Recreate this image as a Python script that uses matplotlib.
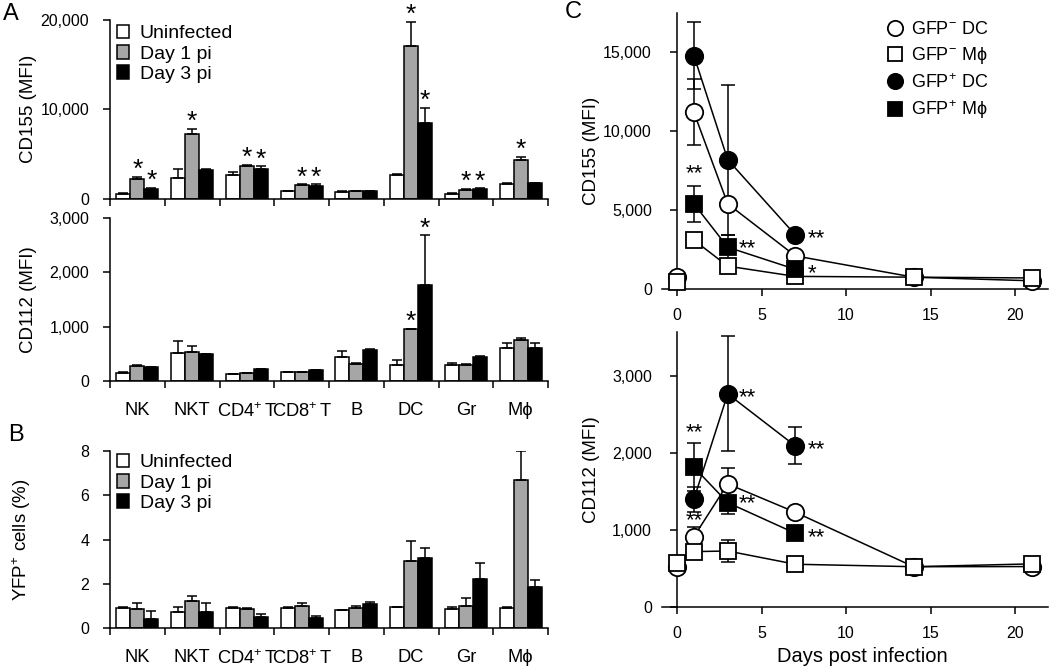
import numpy as np
import matplotlib
matplotlib.use("Agg")
import matplotlib.pyplot as plt
from matplotlib.ticker import FuncFormatter
from matplotlib.lines import Line2D

plt.rcParams['font.family'] = ['Liberation Sans', 'DejaVu Sans']
plt.rcParams['mathtext.fontset'] = 'custom'
plt.rcParams['mathtext.rm'] = 'Liberation Sans'
plt.rcParams['mathtext.it'] = 'Liberation Sans:italic'
plt.rcParams['mathtext.bf'] = 'Liberation Sans:bold'

# ---------------- data ----------------
categories = ["NK", "NKT", r"CD4$^{+}\,$T", r"CD8$^{+}\,$T", "B", "DC", "Gr", "Mϕ"]
groups = ["Uninfected", "Day 1 pi", "Day 3 pi"]

cd155_uninf = [550, 2300, 2600, 800, 750, 2650, 500, 1650]
cd155_uninf_err = [100, 1000, 350, 100, 50, 80, 80, 80]
cd155_d1 = [2250, 7250, 3700, 1500, 800, 17100, 1000, 4350]
cd155_d1_err = [150, 550, 80, 80, 50, 2700, 100, 350]
cd155_d3 = [1100, 3150, 3300, 1400, 800, 8450, 1050, 1750]
cd155_d3_err = [80, 200, 300, 200, 50, 1700, 100, 50]
cd155_stars_d1 = [1, 1, 1, 1, 0, 1, 1, 1]
cd155_stars_d3 = [1, 0, 1, 1, 0, 1, 1, 0]

cd112_uninf = [150, 520, 125, 160, 435, 295, 295, 605]
cd112_uninf_err = [10, 220, 10, 10, 120, 90, 35, 95]
cd112_d1 = [280, 530, 140, 160, 320, 950, 295, 750]
cd112_d1_err = [10, 110, 10, 10, 10, 15, 10, 45]
cd112_d3 = [250, 490, 220, 200, 570, 1775, 445, 610]
cd112_d3_err = [10, 10, 10, 10, 10, 905, 10, 85]
cd112_stars_d1 = [0, 0, 0, 0, 0, 1, 0, 0]
cd112_stars_d3 = [0, 0, 0, 0, 0, 1, 0, 0]

yfp_uninf = [0.89, 0.71, 0.92, 0.92, 0.81, 0.94, 0.86, 0.92]
yfp_uninf_err = [0.04, 0.25, 0.02, 0.02, 0.02, 0.02, 0.07, 0.02]
yfp_d1 = [0.85, 1.22, 0.85, 1.00, 0.89, 3.03, 1.00, 6.70]
yfp_d1_err = [0.29, 0.23, 0.07, 0.12, 0.10, 0.91, 0.34, 1.30]
yfp_d3 = [0.39, 0.71, 0.51, 0.47, 1.09, 3.15, 2.20, 1.87]
yfp_d3_err = [0.38, 0.41, 0.11, 0.05, 0.10, 0.48, 0.76, 0.30]

days = [0, 1, 3, 7, 14, 21]
nan = np.nan
c155_gfpm_dc = [780, 11200, 5400, 2100, 750, 520]
c155_gfpm_dc_err = [0, 2100, 0, 0, 0, 0]
c155_gfpm_mf = [460, 3100, 1450, 800, 750, 700]
c155_gfpm_mf_err = [0, 0, 0, 0, 0, 0]
c155_gfpp_dc = [nan, 14800, 8200, 3430, nan, nan]
c155_gfpp_dc_err = [0, 2100, 4750, 0, 0, 0]
c155_gfpp_mf = [nan, 5400, 2650, 1250, nan, nan]
c155_gfpp_mf_err = [0, 1150, 800, 0, 0, 0]

c112_gfpm_dc = [516, 913, 1598, 1230, 523, 525]
c112_gfpm_dc_err = [0, 130, 200, 0, 0, 0]
c112_gfpm_mf = [568, 719, 727, 555, 523, 560]
c112_gfpm_mf_err = [0, 0, 145, 0, 0, 0]
c112_gfpp_dc = [nan, 1399, 2767, 2091, nan, nan]
c112_gfpp_dc_err = [0, 160, 745, 240, 0, 0]
c112_gfpp_mf = [nan, 1815, 1355, 957, nan, nan]
c112_gfpp_mf_err = [0, 310, 150, 0, 0, 0]

series_labels = [r"GFP$^{-}$ DC", r"GFP$^{-}$ Mϕ", r"GFP$^{+}$ DC", r"GFP$^{+}$ Mϕ"]

# ---------------- figure ----------------
W, H = 1050, 668
fig = plt.figure(figsize=(W / 100, H / 100), dpi=100)

def ax_px(l, t, r, b):
    return fig.add_axes([l / W, 1 - b / H, (r - l) / W, (b - t) / H])

GREY = '#a6a6a6'
LW = 1.1
comma = FuncFormatter(lambda v, p: f"{v:,.0f}")


def style_axes(ax, ypad=10, xpad=3.5):
    for s in ['top', 'right']:
        ax.spines[s].set_visible(False)
    for s in ['left', 'bottom']:
        ax.spines[s].set_linewidth(LW)
    ax.tick_params(axis='both', which='major', direction='out', length=5,
                   width=LW, labelsize=11.5, color='black')
    ax.tick_params(axis='y', which='major', pad=ypad)
    ax.tick_params(axis='x', which='major', pad=xpad)


def bar_panel(ax, vals, errs, stars, ymax, yticks, show_labels, ylabel, fmt=None,
              legend_y=None):
    x = np.arange(len(categories))
    w = 0.255
    colors = ['white', GREY, 'black']
    conts = []
    for i, (v, e, c) in enumerate(zip(vals, errs, colors)):
        xi = x + (i - 1) * w
        bc = ax.bar(xi, v, w, color=c, edgecolor='black', linewidth=LW,
                    yerr=[np.zeros(len(e)), e], capsize=3.5,
                    error_kw=dict(elinewidth=LW, capthick=LW, ecolor='black'),
                    zorder=2)
        conts.append(bc)
        if stars is not None and stars[i] is not None:
            for xx, vv, ee, st in zip(xi, v, e, stars[i]):
                if st:
                    ax.annotate('*', (xx, vv + ee), xytext=(0, 5),
                                textcoords='offset points', ha='center',
                                va='center', fontsize=19)
    ax.set_xlim(-0.5, len(categories) - 0.5)
    ax.set_ylim(0, ymax)
    ax.set_xticks(np.arange(len(categories) + 1) - 0.5)
    ax.set_xticklabels([])
    ax.set_xticks(x, minor=True)
    if show_labels:
        ax.set_xticklabels(categories, minor=True, fontsize=13.2)
    ax.tick_params(axis='x', which='minor', length=0, pad=15)
    ax.set_yticks(yticks)
    if fmt is not None:
        ax.yaxis.set_major_formatter(fmt)
    style_axes(ax, ypad=10)
    ax.set_ylabel(ylabel, fontsize=13.5)
    if legend_y is not None:
        ax.legend(conts, groups, loc='upper left', bbox_to_anchor=(0.015, legend_y),
                  frameon=False, fontsize=14, handlelength=0.65, handleheight=0.7,
                  handletextpad=0.55, labelspacing=0.14, borderpad=0, borderaxespad=0)
    return ax

# Panel A top
axA1 = ax_px(110, 20, 548, 198.6)
bar_panel(axA1, [cd155_uninf, cd155_d1, cd155_d3],
          [cd155_uninf_err, cd155_d1_err, cd155_d3_err],
          [None, cd155_stars_d1, cd155_stars_d3], 20000, [0, 10000, 20000],
          False, 'CD155 (MFI)', comma, legend_y=0.974)
axA1.yaxis.set_label_coords(-73 / 438, 0.5)

# Panel A bottom
axA2 = ax_px(110, 218, 548, 381)
bar_panel(axA2, [cd112_uninf, cd112_d1, cd112_d3],
          [cd112_uninf_err, cd112_d1_err, cd112_d3_err],
          [None, cd112_stars_d1, cd112_stars_d3], 3000, [0, 1000, 2000, 3000],
          True, 'CD112 (MFI)', comma)
axA2.yaxis.set_label_coords(-73 / 438, 0.5)

# Panel B
axB = ax_px(110, 451, 548, 628)
bar_panel(axB, [yfp_uninf, yfp_d1, yfp_d3],
          [yfp_uninf_err, yfp_d1_err, yfp_d3_err],
          None, 8, [0, 2, 4, 6, 8], True, r"YFP$^{+}$ cells (%)", legend_y=0.985)
axB.yaxis.set_label_coords(-77 / 438, 0.5)


def line_panel(ax, series, errs, ymax, yticks, ylabel, xlabel=None, legend=False):
    markers = [('o', 'white'), ('s', 'white'), ('o', 'black'), ('s', 'black')]
    d = np.array(days, dtype=float)
    handles = []
    for (mk, fc), v, e, lab in zip(markers, series, errs, series_labels):
        v = np.array(v, dtype=float)
        e = np.array(e, dtype=float)
        ms = 12.5 if mk == 'o' else 11.5
        # connecting line starts at day 1
        ax.plot(d[1:], v[1:], '-', color='black', lw=LW, zorder=2)
        has_err = e > 0
        ax.errorbar(d[has_err], v[has_err], yerr=e[has_err], fmt='none',
                    ecolor='black', elinewidth=LW, capsize=5, capthick=LW, zorder=2)
        ax.plot(d, v, linestyle='none', marker=mk, ms=ms, mfc=fc, mec='black',
                mew=LW + 0.2, zorder=3, clip_on=False)
        handles.append(Line2D([], [], linestyle='none', marker=mk, ms=ms - 1.5,
                              mfc=fc, mec='black', mew=LW + 0.2))
    ax.set_xlim(0, 21.95)
    ax.set_ylim(0, ymax)
    ax.set_xticks([0, 5, 10, 15, 20])
    ax.set_yticks(yticks)
    ax.yaxis.set_major_formatter(comma)
    style_axes(ax, ypad=13, xpad=9)
    ax.spines['bottom'].set_bounds(-0.9, 21.95)
    ax.set_ylabel(ylabel, fontsize=13.5)
    ax.yaxis.set_label_coords(-77 / 371, 0.5)
    if xlabel:
        ax.set_xlabel(xlabel, fontsize=14.5, labelpad=4)
    if legend:
        ax.legend(handles, series_labels, loc='upper right',
                  bbox_to_anchor=(0.84, 0.97), frameon=False, fontsize=13,
                  handlelength=0.8, handletextpad=0.5, labelspacing=0.38,
                  borderpad=0, borderaxespad=0)


def stars_at(ax, x, y, text, dx, dy, ha='center'):
    ax.annotate(text, (x, y), xytext=(dx, dy), textcoords='offset points',
                ha=ha, va='center', fontsize=16)

# Panel C top
axC1 = ax_px(677, 13, 1048, 289)
line_panel(axC1, [c155_gfpm_dc, c155_gfpm_mf, c155_gfpp_dc, c155_gfpp_mf],
           [c155_gfpm_dc_err, c155_gfpm_mf_err, c155_gfpp_dc_err, c155_gfpp_mf_err],
           17500, [0, 5000, 10000, 15000], 'CD155 (MFI)', legend=True)
stars_at(axC1, 1, c155_gfpp_mf[1] + c155_gfpp_mf_err[1], '**', 0, 9)
stars_at(axC1, 3, c155_gfpp_mf[2], '**', 8, -1, 'left')
stars_at(axC1, 7, c155_gfpp_dc[3], '**', 9, -3, 'left')
stars_at(axC1, 7, c155_gfpp_mf[3], '*', 9, -3, 'left')

# Panel C bottom
axC2 = ax_px(677, 332, 1048, 607)
line_panel(axC2, [c112_gfpm_dc, c112_gfpm_mf, c112_gfpp_dc, c112_gfpp_mf],
           [c112_gfpm_dc_err, c112_gfpm_mf_err, c112_gfpp_dc_err, c112_gfpp_mf_err],
           3570, [0, 1000, 2000, 3000], 'CD112 (MFI)', xlabel='Days post infection')
stars_at(axC2, 1, c112_gfpp_mf[1] + c112_gfpp_mf_err[1], '**', 0, 8)
stars_at(axC2, 1, c112_gfpm_dc[1] + c112_gfpm_dc_err[1], '**', 0, 4)
stars_at(axC2, 3, c112_gfpp_dc[2], '**', 8, -3, 'left')
stars_at(axC2, 7, c112_gfpp_dc[3], '**', 9, -3, 'left')
stars_at(axC2, 3, c112_gfpp_mf[2], '**', 8, -1, 'left')
stars_at(axC2, 7, c112_gfpp_mf[3], '**', 9, -3, 'left')

# panel letters
fig.text(3 / W, 1 - 14 / H, 'A', fontsize=17, va='center', ha='left')
fig.text(8 / W, 1 - 435 / H, 'B', fontsize=17, va='center', ha='left')
fig.text(565 / W, 1 - 12 / H, 'C', fontsize=17, va='center', ha='left')

fig.savefig('out.png', dpi=100)
